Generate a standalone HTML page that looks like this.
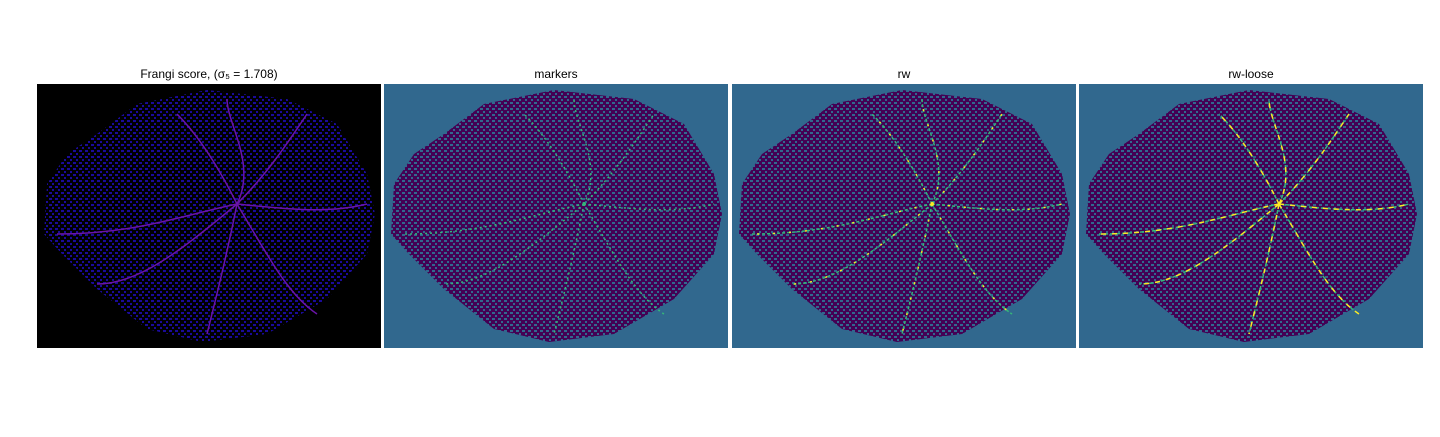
<!DOCTYPE html>
<html><head><meta charset="utf-8"><style>
body{margin:0;background:#fff;width:1440px;height:432px;overflow:hidden;font-family:"Liberation Sans","DejaVu Sans",sans-serif}
</style></head><body>
<svg width="1440" height="432" xmlns="http://www.w3.org/2000/svg">
<defs>
<pattern id="p1" width="6" height="6" patternUnits="userSpaceOnUse">
<rect width="6" height="6" fill="#000"/><rect x="0" y="0" width="3" height="2" fill="#1a0a9a"/><rect x="3" y="3" width="2" height="2" fill="#1a0a9a"/>
</pattern>
<pattern id="p2" width="6" height="6" patternUnits="userSpaceOnUse">
<rect width="6" height="6" fill="#440154"/><rect x="0" y="0" width="3" height="2" fill="#31688e"/><rect x="3" y="3" width="2" height="2" fill="#31688e"/>
</pattern>
<polygon id="eye" points="60,50 100,20 170,6 250,15 300,40 330,90 338,130 330,170 290,215 230,250 165,258 110,245 60,205 25,170 7,150 10,100 30,70"/>
<g id="vessels" fill="none" stroke-width="1.5">
<path d="M200,120 C180,80 160,50 140,30"/><path d="M200,120 C230,90 250,60 270,30"/><path d="M200,120 C150,130 100,150 20,150"/><path d="M200,120 C250,125 290,130 330,120"/><path d="M200,120 C190,170 180,210 170,250"/><path d="M200,120 C230,170 250,210 280,230"/><path d="M200,120 C140,170 100,200 60,200"/><path d="M200,120 C220,80 190,40 190,15"/>
</g>
</defs>
<g transform="translate(37,84)">
<rect width="344" height="264" fill="#000"/>
<use href="#eye" fill="url(#p1)"/>
<use href="#vessels" stroke="#6a14a8"/>
</g>
<g transform="translate(384,84)">
<rect width="344" height="264" fill="#31688e"/>
<use href="#eye" fill="url(#p2)"/>
<use href="#vessels" stroke="#35b779" stroke-dasharray="2 3"/>
</g>
<g transform="translate(732,84)">
<rect width="344" height="264" fill="#31688e"/>
<use href="#eye" fill="url(#p2)"/>
<use href="#vessels" stroke="#35b779" stroke-dasharray="3 2"/>
<use href="#vessels" stroke="#fde725" stroke-dasharray="2 14"/>
</g>
<g transform="translate(1079,84)">
<rect width="344" height="264" fill="#31688e"/>
<use href="#eye" fill="url(#p2)"/>
<use href="#vessels" stroke="#35b779" stroke-width="4" stroke-dasharray="4 2"/>
<use href="#vessels" stroke="#fde725" stroke-width="3" stroke-dasharray="5 6"/>
</g>
<g font-size="12" fill="#000" text-anchor="middle">
<text x="209" y="78">Frangi score, (σ₅ = 1.708)</text>
<text x="556" y="78">markers</text>
<text x="904" y="78">rw</text>
<text x="1251" y="78">rw-loose</text>
</g>
</svg>
</body></html>
